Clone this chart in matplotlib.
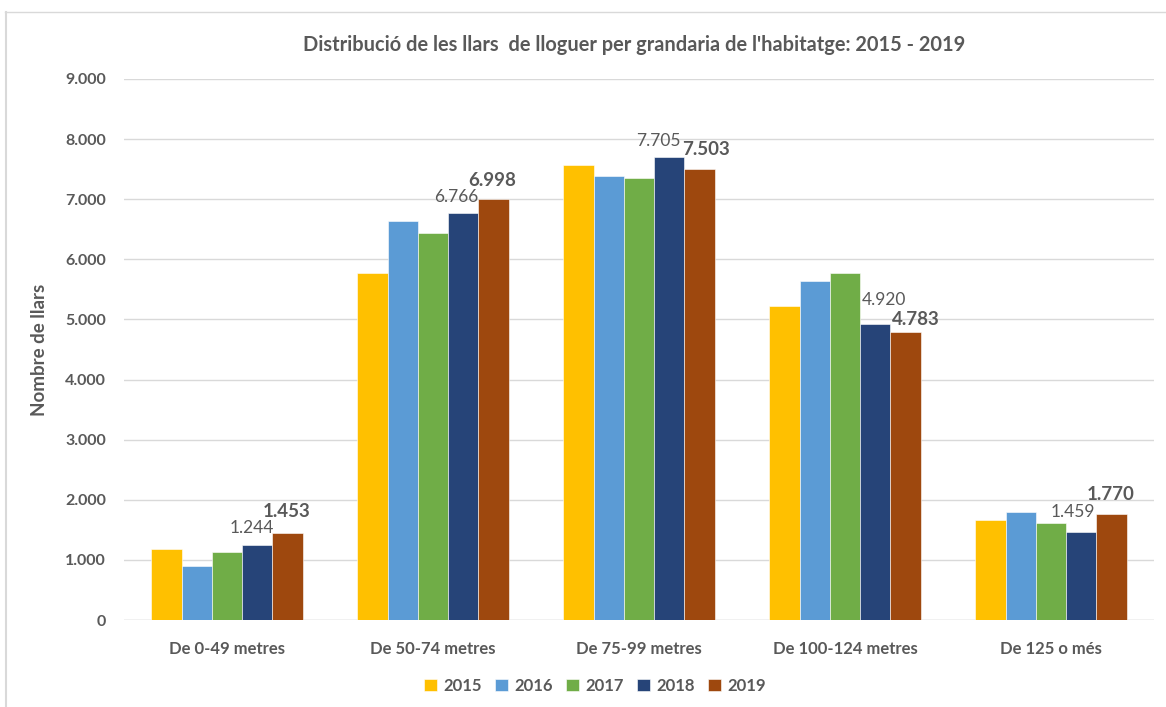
import matplotlib.pyplot as plt
import matplotlib.ticker as mticker
import numpy as np
from matplotlib.lines import Line2D

categories = ['De 0-49 metres', 'De 50-74 metres', 'De 75-99 metres',
              'De 100-124 metres', 'De 125 o més']
years = ['2015', '2016', '2017', '2018', '2019']
v2015 = [1180, 5780, 7570, 5225, 1670]
v2016 = [900, 6640, 7390, 5640, 1797]
v2017 = [1135, 6430, 7360, 5770, 1620]
v2018 = [1244, 6766, 7705, 4920, 1459]
v2019 = [1453, 6998, 7503, 4783, 1770]

colors = ['#FFC000', '#5B9BD5', '#70AD47', '#264478', '#9E480E']
txt = '#595959'

plt.rcParams['font.family'] = ['Lato', 'DejaVu Sans']

fig = plt.figure(figsize=(11.66, 7.07), dpi=100)
ax = fig.add_axes([124/1166, 87/707, 1030/1166, 541/707])

series = [v2015, v2016, v2017, v2018, v2019]
x = np.arange(len(categories))
w = 0.147
bars = []
for i, (vals, c, yr) in enumerate(zip(series, colors, years)):
    b = ax.bar(x + (i - 2) * w, vals, width=w, color=c, label=yr,
               edgecolor='white', linewidth=0.4, zorder=3)
    bars.append(b)

# data labels: 2018 plain, 2019 bold (pixel offsets)
off18 = [(-5, 17), (-7, 16), (-11, 16), (9, 24), (-8, 20)]
off19 = [(-1, 21), (-1, 19), (6, 19), (10, 13), (-1, 19)]
for rect, v, (dx, dy) in zip(bars[3], v2018, off18):
    ax.annotate(f'{v:,}'.replace(',', '.'),
                (rect.get_x() + rect.get_width() / 2, v),
                xytext=(dx, dy), textcoords='offset pixels',
                ha='center', va='center', fontsize=12.5, color=txt, zorder=4)
for rect, v, (dx, dy) in zip(bars[4], v2019, off19):
    ax.annotate(f'{v:,}'.replace(',', '.'),
                (rect.get_x() + rect.get_width() / 2, v),
                xytext=(dx, dy), textcoords='offset pixels',
                ha='center', va='center', fontsize=13.5, fontweight='bold',
                color=txt, zorder=4)

ax.set_ylim(0, 9000)
ax.set_xlim(-0.5, len(categories) - 0.5)
ax.yaxis.set_major_locator(mticker.MultipleLocator(1000))
ax.yaxis.set_major_formatter(mticker.FuncFormatter(
    lambda v, p: f'{int(v):,}'.replace(',', '.')))
ax.grid(axis='y', color='#D9D9D9', linewidth=1, zorder=0)
for s in ax.spines.values():
    s.set_visible(False)
ax.axhline(0, color='#D9D9D9', linewidth=1, zorder=2)
ax.set_xticks(x)
ax.set_xticklabels(categories)
ax.tick_params(axis='x', length=0, pad=15, labelsize=12, labelcolor=txt)
ax.tick_params(axis='y', length=0, pad=13, labelsize=11.5, labelcolor=txt)
for lab in ax.get_xticklabels() + ax.get_yticklabels():
    lab.set_fontweight('bold')

ax.set_ylabel('Nombre de llars', fontsize=13.5, fontweight='bold', color=txt,
              labelpad=12)

fig.text(0.544, 1 - 45/707,
         "Distribució de les llars  de lloguer per grandaria de l'habitatge: 2015 - 2019",
         ha='center', va='center', fontsize=14.4, fontweight='bold', color=txt)

leg = fig.legend(handles=[b for b in bars], labels=years, loc='center',
                 bbox_to_anchor=(595/1166, 1 - 686/707), ncol=5, frameon=False,
                 handlelength=0.75, handleheight=0.75, handletextpad=0.4,
                 columnspacing=0.8, prop={'weight': 'bold', 'size': 12})
for t in leg.get_texts():
    t.set_color(txt)

# chart border (top and left visible)
fig.add_artist(Line2D([5/1166, 1], [1 - 12/707, 1 - 12/707],
                      transform=fig.transFigure, color='#D9D9D9', linewidth=1))
fig.add_artist(Line2D([5.5/1166, 5.5/1166], [0, 1 - 12/707],
                      transform=fig.transFigure, color='#D9D9D9', linewidth=1.5))

fig.savefig('out.png', dpi=100)
